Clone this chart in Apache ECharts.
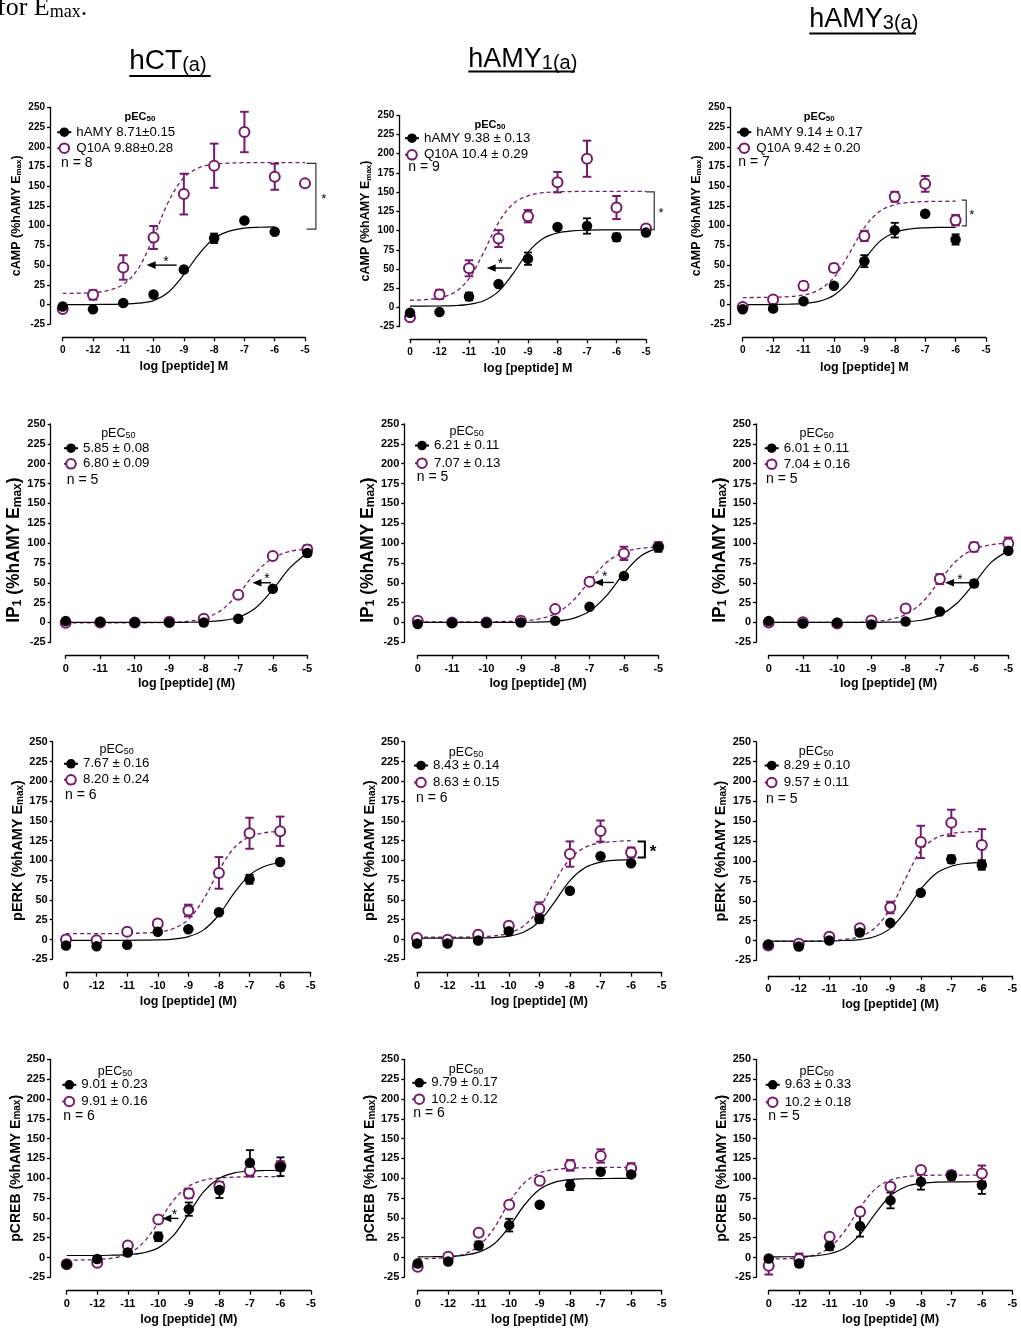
<!DOCTYPE html>
<html><head><meta charset="utf-8">
<script src="https://cdn.jsdelivr.net/npm/echarts/dist/echarts.min.js"></script>
<style>html,body{margin:0;padding:0;background:#fff}#c{width:1021px;height:1328px}</style>
</head><body><div id="c"></div>
<script>
const FONT = '"Liberation Sans", Arial, Helvetica, sans-serif';
const SERIF = '"Liberation Serif", "Times New Roman", serif';
const PURPLE = '#741c6a';

// x positions (first position = vehicle, labelled "0")
const conc13 = [-13,-12,-11,-10,-9,-8,-7,-6,-5];
const conc12 = [-12,-11,-10,-9,-8,-7,-6,-5];
const ticks13 = ['0','-12','-11','-10','-9','-8','-7','-6','-5'];
const ticks12 = ['0','-11','-10','-9','-8','-7','-6','-5'];
const fitX13 = [-13,-12.5,-12,-11.5,-11,-10.5,-10,-9.5,-9,-8.5,-8,-7.5,-7,-6.5,-6,-5.5,-5];
const fitX12 = [-12,-11.5,-11,-10.5,-10,-9.5,-9,-8.5,-8,-7.5,-7,-6.5,-6,-5.5,-5];

// ---- cAMP ----
const camp_hct_hamy      = [-2.5, -6, 2, 12.7, 44.4, 84, 106.6, 92.2, null];
const camp_hct_hamy_sem  = [0, 0, 0, 0, 0, 6, 0, 0, 0];
const camp_hct_q10a      = [-5.5, 12.3, 47, 85, 140, 176, 218.7, 162, 153.6];
const camp_hct_q10a_sem  = [0, 6, 15.5, 14.6, 25.8, 28, 25.6, 16.5, 0];
const camp_hct_hamy_fit  = [0, 0, 0.1, 0.3, 0.6, 1.8, 5, 16, 38, 64, 84, 93, 96.8, 98, 98.5];
const camp_hct_q10a_fit  = [14.1, 14.4, 15.2, 17.9, 25.7, 46, 85.5, 131, 160.7, 173.4, 177.8, 179.3, 179.8, 180, 180, 180, 180];

const camp_amy1_hamy     = [-7, -6, 14.3, 30.4, 63.5, 104.8, 106, 91.3, 97.4];
const camp_amy1_hamy_sem = [0, 0, 5, 0, 8, 0, 10, 5, 0];
const camp_amy1_q10a     = [-12.6, 17, 51, 89.6, 118.7, 163, 193.5, 130, 102.6];
const camp_amy1_q10a_sem = [0, 6, 10.4, 11, 8, 13.3, 23.5, 15, 0];
const camp_amy1_hamy_fit = [1.7, 1.7, 1.9, 2.4, 4.0, 8.7, 20.9, 44.5, 71.8, 89.4, 97, 99.7, 100.6, 100.9, 101, 101, 101];
const camp_amy1_q10a_fit = [9.4, 10.1, 12.5, 19.5, 37.4, 72, 110.5, 135, 145.3, 149.3, 150.5, 150.8, 151, 151, 151, 151, 151];

const camp_amy3_hamy     = [-6, -5, 4.2, 23.7, 55, 94.3, 115, 82.5, null];
const camp_amy3_hamy_sem = [0, 0, 0, 0, 7.6, 9.3, 0, 6.5, 0];
const camp_amy3_q10a     = [-3, 6.3, 23.7, 46.5, 87, 136.6, 153, 107, null];
const camp_amy3_q10a_sem = [0, 0, 5, 5, 6.5, 6.3, 10, 6.6, 0];
const camp_amy3_hamy_fit = [0, 0, 0.1, 0.4, 1.3, 4.1, 11.9, 29.8, 56.9, 79.8, 91.3, 95.8, 97.3, 97.8, 97.9];
const camp_amy3_q10a_fit = [8.9, 9.0, 9.3, 10, 12.1, 18.4, 34.4, 64.4, 97.5, 118, 126.5, 129.5, 130.5, 130.8, 131];

// ---- IP1 ----
const ip1_hct_hamy      = [1.7, 0.8, 0, 0, 0, 4.6, 42.4, 87.4];
const ip1_hct_hamy_sem  = [0, 0, 0, 0, 0, 0, 0, 4];
const ip1_hct_q10a      = [-0.5, 0, 0, 1, 4.6, 35, 83.6, 92];
const ip1_hct_q10a_sem  = [0, 0, 0, 0, 0, 0, 0, 5];
const ip1_hct_hamy_fit  = [0, 0, 0, 0, 0, 0, 0.1, 0.2, 0.7, 2.2, 6.6, 18.3, 41.5, 69, 87.6];
const ip1_hct_q10a_fit  = [-0.5, -0.5, -0.5, -0.5, -0.4, -0.3, 0.1, 1.3, 5.1, 15.2, 36, 62.4, 81.1, 89.5, 92.5];

const ip1_amy1_hamy     = [-2, -0.8, -0.4, 0, 2, 19.7, 58.4, 95];
const ip1_amy1_hamy_sem = [0, 0, 0, 0, 0, 0, 0, 6];
const ip1_amy1_q10a     = [2, 0, 0, 2, 16.8, 51.2, 87, 95.3];
const ip1_amy1_q10a_sem = [0, 0, 0, 0, 0, 0, 8.4, 5];
const ip1_amy1_hamy_fit = [0, 0, 0, 0, 0, 0.1, 0.2, 0.5, 1.6, 4.9, 14, 34, 62, 84, 94];
const ip1_amy1_q10a_fit = [0.8, 0.8, 0.8, 0.8, 0.9, 1.2, 1.9, 4.2, 10.9, 26.5, 52, 75.8, 88.6, 93.5, 95];

const ip1_amy3_hamy     = [1.7, -1.3, -0.4, -2.5, 1.3, 13.9, 49, 90.3];
const ip1_amy3_hamy_sem = [0, 0, 0, 0, 0, 0, 4, 0];
const ip1_amy3_q10a     = [0, 0.4, -1.3, 2.5, 17.6, 54.6, 95, 99.5];
const ip1_amy3_q10a_sem = [0, 0, 0, 0, 0, 6.3, 5.7, 7.4];
const ip1_amy3_hamy_fit = [0, 0, 0, 0, 0, 0, 0.1, 0.3, 1, 3.1, 9.2, 24.2, 49, 75.7, 90.2];
const ip1_amy3_q10a_fit = [0, 0, 0, 0, 0, 0.1, 1.1, 3.4, 10, 26, 52.8, 78.4, 92.5, 98, 100];

// ---- pERK ----
const perk_hct_hamy      = [-7.6, -8.4, -6.7, 9.7, 13, 34.5, 76.2, 98, null];
const perk_hct_hamy_sem  = [0, 0, 0, 0, 0, 0, 5.7, 0, 0];
const perk_hct_q10a      = [0, -0.8, 9.7, 20.2, 36.6, 84.2, 134.3, 136.8, null];
const perk_hct_q10a_sem  = [0, 0, 0, 4.6, 7.4, 20, 19.6, 18.5, 0];
const perk_hct_hamy_fit  = [-1, -1, -1, -1, -1, -0.8, -0.5, 0.5, 3.6, 12.2, 31.3, 58.9, 81.4, 92.6, 97];
const perk_hct_q10a_fit  = [7.5, 7.5, 7.5, 7.5, 7.7, 8.2, 9.5, 13.7, 25.3, 51, 87.2, 116, 129.8, 135, 136.7];

const perk_amy1_hamy     = [-5, -5, -1.3, 10.5, 26, 61.5, 105.3, 96.4, null];
const perk_amy1_hamy_sem = [0, 0, 0, 0, 5, 0, 0, 0, 0];
const perk_amy1_q10a     = [2, -0.4, 5.9, 17.3, 39, 108, 137, 110, null];
const perk_amy1_q10a_sem = [0, 0, 0, 0, 8, 16, 13.4, 6.3, 0];
const perk_amy1_hamy_fit = [1.7, 1.7, 1.7, 1.8, 2, 2.5, 4.3, 9.4, 22.8, 47.6, 74.5, 91, 97.9, 100.3, 101];
const perk_amy1_q10a_fit = [3, 3, 3, 3.1, 3.5, 4.6, 8, 17.5, 39.5, 73, 101.8, 116.6, 122.2, 124, 125];

const perk_amy3_hamy     = [-5, -7.5, 0, 10, 22.2, 60, 102.2, 95, null];
const perk_amy3_hamy_sem = [0, 0, 0, 0, 0, 0, 5, 6, 0];
const perk_amy3_q10a     = [-6.3, -4.2, 4.6, 15.5, 41.5, 124, 148, 120, null];
const perk_amy3_q10a_sem = [0, 0, 0, 0, 7.3, 20.3, 16.5, 20, 0];
const perk_amy3_hamy_fit = [-0.8, -0.8, -0.8, -0.8, -0.5, 0, 1.1, 5, 15.3, 36.9, 64.6, 84.4, 93.4, 97, 98.2];
const perk_amy3_q10a_fit = [-1, -1, -1, -1, 0, 1.5, 5, 16, 40, 78, 113, 129, 134.5, 136.5, 137];

// ---- pCREB ----
const pcreb_hct_hamy      = [-8.4, -2, 6.3, 26.1, 61, 85, 119.6, 114.5, null];
const pcreb_hct_hamy_sem  = [0, 0, 0, 5.5, 8.4, 10, 15.8, 11.8, 0];
const pcreb_hct_q10a      = [-8.4, -6.7, 15.2, 48, 80.8, 90, 109.5, 115.4, null];
const pcreb_hct_q10a_sem  = [0, 0, 0, 0, 6, 5, 7.4, 6, 0];
const pcreb_hct_hamy_fit  = [2.5, 2.5, 2.5, 2.9, 3.6, 5.8, 12.1, 27.9, 55.6, 83.8, 100, 106.8, 109, 109.7, 110];
const pcreb_hct_q10a_fit  = [-3.3, -3.1, -2.5, -0.8, 4.5, 18.4, 44, 72.2, 90, 97.7, 100.3, 101.3, 101.8, 101.9, 102];

const pcreb_amy1_hamy     = [-7.6, -5, 15.2, 40.8, 66.5, 91, 108.2, 104.8, null];
const pcreb_amy1_hamy_sem = [0, 0, 5, 8, 0, 6, 0, 0, 0];
const pcreb_amy1_q10a     = [-11.8, 0.8, 31.2, 66.5, 96.8, 116.2, 128, 112.4, null];
const pcreb_amy1_q10a_sem = [0, 0, 0, 0, 0, 6.7, 8.4, 6.5, 0];
const pcreb_amy1_hamy_fit = [0.8, 1, 1.4, 2.7, 6.7, 17, 38.7, 66.2, 86, 95, 98.4, 99.3, 99.6, 99.7, 99.8];
const pcreb_amy1_q10a_fit = [-1.5, -1.1, 0.1, 4, 14.4, 36.8, 69.5, 94.2, 106.5, 111, 112.6, 113.2, 113.5, 113.6, 113.7];

const pcreb_amy3_hamy     = [-1.3, -7.6, 14.3, 39.6, 72, 95.6, 103, 91.4, null];
const pcreb_amy3_hamy_sem = [0, 4, 5, 13.3, 10, 10, 5, 11.2, 0];
const pcreb_amy3_q10a     = [-10.5, -2, 26, 57.7, 89.3, 110.3, 104, 106, null];
const pcreb_amy3_q10a_sem = [11, 7, 4, 0, 0, 0, 5, 10, 0];
const pcreb_amy3_hamy_fit = [0.8, 0.9, 1.2, 2, 4.7, 12, 29.2, 55.3, 77.8, 89.2, 93.6, 95, 95.4, 95.5, 95.6];
const pcreb_amy3_q10a_fit = [-1.9, -1.6, -0.4, 3, 12.5, 33.4, 63, 86.4, 97.7, 101.9, 103.4, 103.8, 103.9, 104, 104];

// ---- legend texts ----
const legendText = [
  ['hAMY 8.71\u00b10.15', 'Q10A 9.88\u00b10.28', 'n = 8'],
  ['hAMY 9.38 \u00b1 0.13', 'Q10A 10.4 \u00b1 0.29', 'n = 9'],
  ['hAMY 9.14 \u00b1 0.17', 'Q10A 9.42 \u00b1 0.20', 'n = 7'],
  ['5.85 \u00b1 0.08', '6.80 \u00b1 0.09', 'n = 5'],
  ['6.21 \u00b1 0.11', '7.07 \u00b1 0.13', 'n = 5 '],
  ['6.01 \u00b1 0.11', '7.04 \u00b1 0.16', 'n = 5  '],
  ['7.67 \u00b1 0.16', '8.20 \u00b1 0.24', 'n = 6'],
  ['8.43 \u00b1 0.14', '8.63 \u00b1 0.15', 'n = 6 '],
  ['8.29 \u00b1 0.10', '9.57 \u00b1 0.11', 'n = 5'],
  ['9.01 \u00b1 0.23', '9.91 \u00b1 0.16', 'n = 6'],
  ['9.79 \u00b1 0.17', '10.2 \u00b1 0.12', 'n = 6'],
  ['9.63 \u00b1 0.33', '10.2 \u00b1 0.18', 'n = 5']
];
const columnTitles = [['hCT', '(a)'], ['hAMY', '1(a)'], ['hAMY', '3(a)']];

const rowStyle = [
  {yName: 'cAMP (%hAMY E{s|max})', xName: 'log [peptide] M', yNameSize: 12.5, ySub: 8, yNameGap: 27, yPad: 0, tick: 10, xGap: 23, pecBold: true, pecSize: 11, pecSub: 8},
  {yName: 'IP{s|1} (%hAMY E{s|max})', xName: 'log [peptide] (M)', yNameSize: 17.5, ySub: 12, yNameGap: 24, yPad: 34, tick: 11, xGap: 22, pecBold: false, pecSize: 12.5, pecSub: 9},
  {yName: 'pERK (%hAMY E{s|max})', xName: 'log [peptide] (M)', yNameSize: 14.5, ySub: 10, yNameGap: 26, yPad: 0, tick: 11, xGap: 22, pecBold: false, pecSize: 12.5, pecSub: 9},
  {yName: 'pCREB (%hAMY E{s|max})', xName: 'log [peptide] (M)', yNameSize: 14, ySub: 10, yNameGap: 23, yPad: 0, tick: 11, xGap: 22, pecBold: false, pecSize: 12.5, pecSub: 9}
];

const panels = [
  {row:0, g:[62.7,107.3,242.3,217], yOff:12.7, xOff:13, conc:conc13, ticks:ticks13, fx:fitX13,
   d:[camp_hct_hamy,camp_hct_hamy_sem,camp_hct_q10a,camp_hct_q10a_sem,camp_hct_hamy_fit,camp_hct_q10a_fit],
   leg:{mx:63.3,r1:131.7,dr:15,tg:4.5,fs:13.3}, pec:[140,117], nPos:[61,163],
   ann:{arrows:[{from:-9.24,to:-10.23,y:50,sx:-9.59,sy:58}], brackets:[{x:-4.64,tx:-4.95,y1:179,y2:95.6,sx:-4.38,sy:136.6,w:1.2,c:'#333',fs:13}]}},
  {row:0, g:[410,115.3,236,211.4], yOff:10.7, xOff:12.6, conc:conc13, ticks:ticks13, fx:fitX13,
   d:[camp_amy1_hamy,camp_amy1_hamy_sem,camp_amy1_q10a,camp_amy1_q10a_sem,camp_amy1_hamy_fit,camp_amy1_q10a_fit],
   leg:{mx:411,r1:137.7,dr:15.6,tg:3.7,fs:13.3}, pec:[490,125], nPos:[408.3,166.7],
   ann:{arrows:[{from:-9.55,to:-10.4,y:51.3,sx:-9.93,sy:60}], brackets:[{x:-4.72,tx:-5.0,y1:150.4,y2:101.3,sx:-4.49,sy:126.5,w:1.2,c:'#333',fs:13}]}},
  {row:0, g:[742.7,107.3,243.3,217], yOff:12.7, xOff:13.4, conc:conc13, ticks:ticks13, fx:fitX13,
   d:[camp_amy3_hamy,camp_amy3_hamy_sem,camp_amy3_q10a,camp_amy3_q10a_sem,camp_amy3_hamy_fit,camp_amy3_q10a_fit],
   leg:{mx:743.3,r1:131.7,dr:15,tg:3.7,fs:13.3}, pec:[819.3,117.3], nPos:[738.3,161.7],
   ann:{arrows:[], brackets:[{x:-5.65,tx:-5.8,y1:132.4,y2:99.8,sx:-5.47,sy:117.2,w:1.2,c:'#333',fs:13}]}},
  {row:1, g:[65.7,424,241.6,218.3], yOff:15, xOff:12.7, conc:conc12, ticks:ticks12, fx:fitX12,
   d:[ip1_hct_hamy,ip1_hct_hamy_sem,ip1_hct_q10a,ip1_hct_q10a_sem,ip1_hct_hamy_fit,ip1_hct_q10a_fit],
   leg:{mx:70,r1:447.7,dr:14.6,tg:9,fs:13.3}, pec:[118.3,433.3], nPos:[66.7,480],
   ann:{arrows:[{from:-6.05,to:-6.59,y:50,sx:-6.17,sy:58.4}], brackets:[]}},
  {row:1, g:[417.7,424,240.6,218.3], yOff:13.4, xOff:12.7, conc:conc12, ticks:ticks12, fx:fitX12,
   d:[ip1_amy1_hamy,ip1_amy1_hamy_sem,ip1_amy1_q10a,ip1_amy1_q10a_sem,ip1_amy1_hamy_fit,ip1_amy1_q10a_fit],
   leg:{mx:421,r1:445,dr:16.7,tg:6.3,fs:13.3}, pec:[466.7,431.7], nPos:[416.7,476.7],
   ann:{arrows:[{from:-6.29,to:-6.87,y:50.4,sx:-6.56,sy:60.9}], brackets:[]}},
  {row:1, g:[768.7,424,239.6,218.3], yOff:12.7, xOff:12.7, conc:conc12, ticks:ticks12, fx:fitX12,
   d:[ip1_amy3_hamy,ip1_amy3_hamy_sem,ip1_amy3_q10a,ip1_amy3_q10a_sem,ip1_amy3_hamy_fit,ip1_amy3_q10a_fit],
   leg:{mx:770.7,r1:447.7,dr:15,tg:6.6,fs:13.3}, pec:[816.7,433.3], nPos:[766,479.3],
   ann:{arrows:[{from:-6.05,to:-6.85,y:50,sx:-6.41,sy:57.5}], brackets:[]}},
  {row:2, g:[66,741.7,244.7,217.6], yOff:13.3, xOff:13.4, conc:conc13, ticks:ticks13, fx:fitX13,
   d:[perk_hct_hamy,perk_hct_hamy_sem,perk_hct_q10a,perk_hct_q10a_sem,perk_hct_hamy_fit,perk_hct_q10a_fit],
   leg:{mx:70,r1:763.3,dr:15,tg:4,fs:13.3}, pec:[116.7,750], nPos:[65,795],
   ann:{arrows:[], brackets:[]}},
  {row:2, g:[417,741.7,244.7,217.6], yOff:12.7, xOff:13.4, conc:conc13, ticks:ticks13, fx:fitX13,
   d:[perk_amy1_hamy,perk_amy1_hamy_sem,perk_amy1_q10a,perk_amy1_q10a_sem,perk_amy1_hamy_fit,perk_amy1_q10a_fit],
   leg:{mx:420,r1:765,dr:16,tg:6.3,fs:13.3}, pec:[466,752.7], nPos:[416,798.3],
   ann:{arrows:[], brackets:[{x:-5.55,tx:-5.79,y1:123.8,y2:103.6,sx:-5.28,sy:115.4,w:2,c:'#000',fs:17}]}},
  {row:2, g:[768.3,741.7,244,218.7], yOff:12.3, xOff:15.4, conc:conc13, ticks:ticks13, fx:fitX13,
   d:[perk_amy3_hamy,perk_amy3_hamy_sem,perk_amy3_q10a,perk_amy3_q10a_sem,perk_amy3_hamy_fit,perk_amy3_q10a_fit],
   leg:{mx:770.7,r1:765,dr:16,tg:3,fs:13.3}, pec:[816,751.7], nPos:[766,799],
   ann:{arrows:[], brackets:[]}},
  {row:3, g:[66.7,1059.3,244.3,218], yOff:16.7, xOff:13.4, conc:conc13, ticks:ticks13, fx:fitX13,
   d:[pcreb_hct_hamy,pcreb_hct_hamy_sem,pcreb_hct_q10a,pcreb_hct_q10a_sem,pcreb_hct_hamy_fit,pcreb_hct_q10a_fit],
   leg:{mx:68.3,r1:1084.3,dr:15.7,tg:7.4,fs:13.3}, pec:[115,1071.7], nPos:[63.3,1115.7],
   ann:{arrows:[{from:-9.34,to:-9.87,y:49.3,sx:-9.47,sy:57.7}], brackets:[]}},
  {row:3, g:[417.7,1059.3,244,218], yOff:13.4, xOff:13.4, conc:conc13, ticks:ticks13, fx:fitX13,
   d:[pcreb_amy1_hamy,pcreb_amy1_hamy_sem,pcreb_amy1_q10a,pcreb_amy1_q10a_sem,pcreb_amy1_hamy_fit,pcreb_amy1_q10a_fit],
   leg:{mx:418.3,r1:1082.3,dr:15.4,tg:7.4,fs:13.3}, pec:[466,1069.3], nPos:[413.3,1112.7],
   ann:{arrows:[], brackets:[]}},
  {row:3, g:[768.7,1059.3,243.6,218], yOff:12.7, xOff:13.4, conc:conc13, ticks:ticks13, fx:fitX13,
   d:[pcreb_amy3_hamy,pcreb_amy3_hamy_sem,pcreb_amy3_q10a,pcreb_amy3_q10a_sem,pcreb_amy3_hamy_fit,pcreb_amy3_q10a_fit],
   leg:{mx:771.7,r1:1084.3,dr:16.4,tg:7.3,fs:13.3}, pec:[816.7,1071.7], nPos:[768.3,1115.7],
   ann:{arrows:[], brackets:[]}}
];

function pts(xs, ys) { const o = []; ys.forEach((v, i) => { if (v != null) o.push([xs[i], v]); }); return o; }
function errs(xs, ys, es) { const o = []; ys.forEach((v, i) => { if (v != null && es[i] > 0) o.push([xs[i], v - es[i], v + es[i]]); }); return o; }

function errRenderer(color, lw, cap) {
  return function (params, api) {
    const x = api.value(0), a = api.coord([x, api.value(1)]), b = api.coord([x, api.value(2)]);
    const st = {stroke: color, lineWidth: lw};
    return {type: 'group', children: [
      {type: 'line', shape: {x1: a[0], y1: a[1], x2: b[0], y2: b[1]}, style: st},
      {type: 'line', shape: {x1: a[0] - cap, y1: a[1], x2: a[0] + cap, y2: a[1]}, style: st},
      {type: 'line', shape: {x1: b[0] - cap, y1: b[1], x2: b[0] + cap, y2: b[1]}, style: st}
    ]};
  };
}
function annRenderer(ann) {
  return function (params, api) {
    const ch = [];
    ann.arrows.forEach(a => {
      const p1 = api.coord([a.from, a.y]), p2 = api.coord([a.to, a.y]);
      ch.push({type: 'line', shape: {x1: p1[0], y1: p1[1], x2: p2[0] + 5, y2: p2[1]}, style: {stroke: '#000', lineWidth: 1.4}});
      ch.push({type: 'polygon', shape: {points: [[p2[0], p2[1]], [p2[0] + 9, p2[1] - 3.8], [p2[0] + 9, p2[1] + 3.8]]}, style: {fill: '#000'}});
      const s = api.coord([a.sx, a.sy]);
      ch.push({type: 'text', x: s[0], y: s[1] + 3, style: {text: '*', fontSize: 14, fontFamily: FONT, fill: '#000', align: 'center', verticalAlign: 'middle'}});
    });
    ann.brackets.forEach(b => {
      const t1 = api.coord([b.tx, b.y1]), c1 = api.coord([b.x, b.y1]), c2 = api.coord([b.x, b.y2]), t2 = api.coord([b.tx, b.y2]);
      ch.push({type: 'polyline', shape: {points: [t1, c1, c2, t2]}, style: {stroke: b.c, lineWidth: b.w, fill: null}});
      const s = api.coord([b.sx, b.sy]);
      ch.push({type: 'text', x: s[0], y: s[1] + b.fs * 0.22, style: {text: '*', fontSize: b.fs, fontWeight: b.fs > 14 ? 'bold' : 'normal', fontFamily: FONT, fill: '#000', align: 'center', verticalAlign: 'middle'}});
    });
    return {type: 'group', children: ch};
  };
}

const option = {animation: false, grid: [], xAxis: [], yAxis: [], series: [], legend: [], graphic: []};

panels.forEach((p, k) => {
  const rs = rowStyle[p.row];
  const [hamy, hamySem, q10a, q10aSem, hamyFit, q10aFit] = p.d;
  const [legH, legQ, nTxt] = legendText[k];
  option.grid.push({left: p.g[0], top: p.g[1], width: p.g[2], height: p.g[3], containLabel: false, outerBoundsMode: 'none'});
  const x0 = p.conc[0];
  option.xAxis.push({
    type: 'value', gridIndex: k, min: x0, max: -5, interval: 1, offset: p.xOff,
    axisLine: {show: true, onZero: false, lineStyle: {color: '#000', width: 1.3}},
    axisTick: {show: true, length: 4, lineStyle: {color: '#000', width: 1.3}},
    axisLabel: {formatter: v => p.ticks[Math.round(v - x0)], fontSize: rs.tick, fontWeight: 'bold', color: '#000', fontFamily: FONT, margin: 8},
    splitLine: {show: false},
    name: rs.xName, nameLocation: 'middle', nameGap: rs.xGap,
    nameTextStyle: {fontSize: 12.5, fontWeight: 'bold', color: '#000', fontFamily: FONT}
  });
  option.yAxis.push({
    type: 'value', gridIndex: k, min: -25, max: 250, interval: 25, offset: p.yOff,
    axisLine: {show: true, lineStyle: {color: '#000', width: 1.3}},
    axisTick: {show: true, length: 3, lineStyle: {color: '#000', width: 1.3}},
    axisLabel: {fontSize: rs.tick, fontWeight: 'bold', color: '#000', fontFamily: FONT, margin: 5},
    splitLine: {show: false},
    name: rs.yName, nameLocation: 'middle', nameGap: rs.yNameGap, nameRotate: 90,
    nameTextStyle: {fontSize: rs.yNameSize, fontWeight: 'bold', color: '#000', fontFamily: FONT,
      padding: [0, rs.yPad, 0, 0],
      rich: {s: {fontSize: rs.ySub, fontWeight: 'bold', color: '#000', fontFamily: FONT, verticalAlign: 'bottom'}}}
  });
  const ax = {xAxisIndex: k, yAxisIndex: k};
  option.series.push(Object.assign({
    type: 'line', name: legQ, data: pts(p.fx, q10aFit), showSymbol: false, symbol: 'emptyCircle', smooth: 0.35,
    lineStyle: {color: PURPLE, width: 1.3, type: [4, 3]}, itemStyle: {color: PURPLE}, z: 2, silent: true
  }, ax));
  option.series.push(Object.assign({
    type: 'line', name: legH, data: pts(p.fx, hamyFit), showSymbol: false, symbol: 'circle', smooth: 0.35,
    lineStyle: {color: '#000', width: 1.2}, itemStyle: {color: '#000'}, z: 2, silent: true
  }, ax));
  option.series.push(Object.assign({
    type: 'custom', name: 'q10a-sem-' + k, data: errs(p.conc, q10a, q10aSem), encode: {x: 0, y: [1, 2]},
    renderItem: errRenderer(PURPLE, 2, 4.3), z: 3, silent: true
  }, ax));
  option.series.push(Object.assign({
    type: 'custom', name: 'hamy-sem-' + k, data: errs(p.conc, hamy, hamySem), encode: {x: 0, y: [1, 2]},
    renderItem: errRenderer('#000', 1.8, 4), z: 3, silent: true
  }, ax));
  option.series.push(Object.assign({
    type: 'scatter', name: 'q10a-pts-' + k, data: pts(p.conc, q10a), symbol: 'circle', symbolSize: 10,
    itemStyle: {color: '#fff', borderColor: PURPLE, borderWidth: 2, opacity: 1}, z: 4, silent: true
  }, ax));
  option.series.push(Object.assign({
    type: 'scatter', name: 'hamy-pts-' + k, data: pts(p.conc, hamy), symbol: 'circle', symbolSize: 10.5,
    itemStyle: {color: '#000', opacity: 1}, z: 5, silent: true
  }, ax));
  option.series.push(Object.assign({
    type: 'custom', name: 'ann-' + k, data: [[x0, 0]], encode: {x: 0, y: 1},
    renderItem: annRenderer(p.ann), z: 6, silent: true
  }, ax));

  const iw = 14, ih = 12;
  option.legend.push({
    data: [legH, legQ], orient: 'vertical', left: p.leg.mx - iw / 2, top: p.leg.r1 - ih / 2, padding: 0,
    itemWidth: iw, itemHeight: ih, itemGap: p.leg.dr - ih, itemTextGap: p.leg.tg, selectedMode: false,
    textStyle: {fontSize: p.leg.fs, color: '#000', fontFamily: FONT}
  });
  option.graphic.push({
    type: 'text', x: p.pec[0], y: p.pec[1], silent: true,
    style: {text: 'pEC{s|50}', fontSize: rs.pecSize, fontWeight: rs.pecBold ? 'bold' : 'normal', fontFamily: FONT, fill: '#000',
      align: 'center', verticalAlign: 'middle',
      rich: {s: {fontSize: rs.pecSub, fontWeight: rs.pecBold ? 'bold' : 'normal', fontFamily: FONT, fill: '#000', verticalAlign: 'bottom'}}}
  });
  option.graphic.push({
    type: 'text', x: p.nPos[0], y: p.nPos[1], silent: true,
    style: {text: nTxt.trim(), fontSize: 14, fontFamily: FONT, fill: '#000', align: 'left', verticalAlign: 'middle'}
  });
});

// column titles
const titlePos = [{x: 129.3, y: 61, fs: 28, u: [129.3, 210.7, 76]}, {x: 468.3, y: 60, fs: 27, u: [468.3, 575, 71.5]}, {x: 809.3, y: 20, fs: 27, u: [809.3, 916, 33.5]}];
columnTitles.forEach((t, i) => {
  const tp = titlePos[i];
  option.graphic.push({
    type: 'text', x: tp.x, y: tp.y, silent: true,
    style: {text: '{m|' + t[0] + '}{s|' + t[1] + '}', fill: '#000', align: 'left', verticalAlign: 'middle',
      rich: {m: {fontSize: tp.fs, fontFamily: FONT, fill: '#000'}, s: {fontSize: 20, fontFamily: FONT, fill: '#000', verticalAlign: 'bottom'}}}
  });
  option.graphic.push({type: 'line', silent: true, shape: {x1: tp.u[0], y1: tp.u[2], x2: tp.u[1], y2: tp.u[2]}, style: {stroke: '#000', lineWidth: 2}});
});
// cropped caption text from the page above
option.graphic.push({
  type: 'text', x: -3, y: 8, silent: true,
  style: {text: '{m|for E}{s|max}{m|.}', fill: '#000', align: 'left', verticalAlign: 'middle',
    rich: {m: {fontSize: 26, fontFamily: SERIF, fill: '#000'}, s: {fontSize: 18, fontFamily: SERIF, fill: '#000', verticalAlign: 'bottom'}}}
});

const chart = echarts.init(document.getElementById('c'), null, {renderer: 'canvas'});
chart.setOption(option);
</script></body></html>
